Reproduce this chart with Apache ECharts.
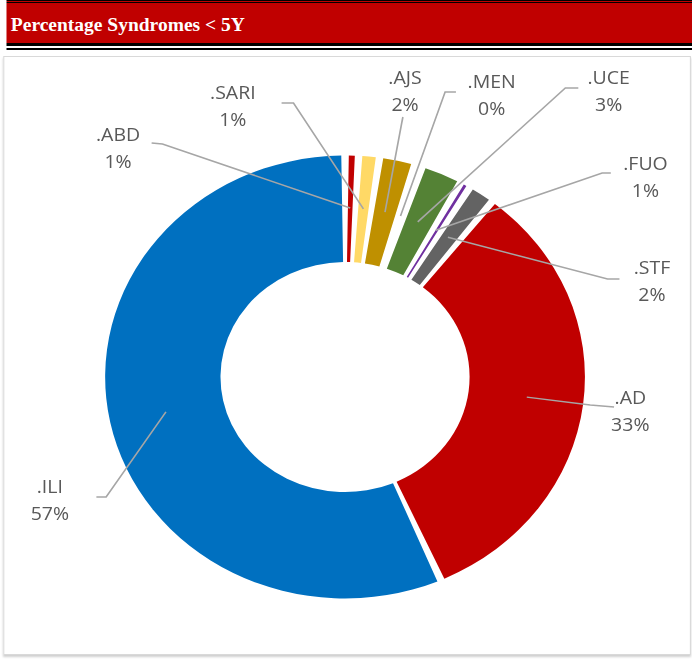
<!DOCTYPE html>
<html>
<head>
<meta charset="utf-8">
<title>Percentage Syndromes &lt; 5Y</title>
<script src="https://cdn.jsdelivr.net/npm/echarts@6/dist/echarts.min.js"></script>
<style>
  html, body { margin: 0; padding: 0; background: #fff; overflow: hidden; }
  /* the source picture is stretched a little horizontally */
  #page { position: relative; width: 639px; height: 659px; transform: scaleX(1.083); transform-origin: 0 0; }
  .rule { position: absolute; left: 5.5px; right: 0; }
  #title {
    position: absolute; left: 10px; top: 5px; height: 40px; line-height: 40px;
    font-family: "Liberation Serif", "Times New Roman", serif; font-weight: bold; font-size: 18px; color: #fff;
  }
  #box {
    position: absolute; left: 3px; top: 56px; width: 633px; height: 597px;
    border: 1px solid #d9d9d9; box-shadow: 0 2px 2px #d0d0d0;
  }
  #chart { position: absolute; left: 0; top: 0; width: 639px; height: 659px; }
</style>
</head>
<body>
<div id="page">
  <div class="rule" style="top:0;height:1px;background:#000"></div>
  <div class="rule" style="top:1px;height:1px;background:#c00000"></div>
  <div class="rule" style="top:2px;height:1px;background:#000"></div>
  <div class="rule" style="top:3px;height:40px;background:#c00000"></div>
  <div class="rule" style="top:43px;height:3px;background:#000"></div>
  <div class="rule" style="top:48px;height:2px;background:#000"></div>
  <div id="title">Percentage Syndromes &lt; 5Y</div>
  <div id="box"></div>
  <div id="chart"></div>
</div>
<script>
// slices, clockwise from 12 o'clock
const categories = ['.ABD', '.SARI', '.AJS', '.MEN', '.UCE', '.FUO', '.STF', '.AD', '.ILI'];
const shares = [0.9, 1.4, 2.4, 0.4, 2.8, 0.7, 1.8, 33.0, 56.6];
const colors = ['#c00000', '#ffd966', '#bf9000', '#a5a5a5', '#548235', '#7030a0', '#636363', '#c00000', '#0070c0'];

// label block centres and leader-line bends (chart pixels, before stretch)
const labelSpots = [[109, 147], [215, 105], [374, 90], [454, 94], [562, 90], [596, 176], [602, 280], [582, 410], [46, 499]];
const bends = [[150, 144], [271, 103], [372, 117], [411, 92], [522, 88], [556, 173], [561, 279], [545, 405], [98, 497]];
const lineEnds = [[140, 143], [260, 103], [372, 117], [421, 92], [534, 88], [564, 173], [572, 279], [567, 407], [89, 497]];

const center = [318.6, 377];

const chart = echarts.init(document.getElementById('chart'), null, { renderer: 'svg' });

const sliceData = categories.map((name, i) => ({ name, value: shares[i], itemStyle: { color: colors[i] } }));
const labelData = categories.map((name, i) => ({ name, value: shares[i] }));

chart.setOption({
  animation: false,
  series: [
    {
      type: 'pie',
      center,
      radius: [115, 221.5],
      startAngle: 90,
      clockwise: true,
      padAngle: 1.8,
      silent: true,
      avoidLabelOverlap: false,
      label: { show: false },
      labelLine: { show: false },
      itemStyle: { borderWidth: 0 },
      data: sliceData,
    },
    {
      // invisible ring that carries the labels, so leaders start mid-ring
      type: 'pie',
      center,
      radius: [0, 169],
      startAngle: 90,
      clockwise: true,
      silent: true,
      z: 3,
      avoidLabelOverlap: false,
      itemStyle: { color: 'rgba(0,0,0,0)' },
      label: {
        show: true,
        formatter: (p) => `${p.name}\n${Math.round(p.value)}%`,
        color: '#595959',
        fontFamily: 'Open Sans',
        fontSize: 18,
        lineHeight: 27,
        align: 'center',
      },
      labelLine: { show: true, length: 10, length2: 10, lineStyle: { color: '#a6a6a6', width: 1.5 } },
      labelLayout: (p) => {
        const i = p.dataIndex;
        const start = p.labelLinePoints ? p.labelLinePoints[0] : bends[i];
        return {
          x: labelSpots[i][0],
          y: labelSpots[i][1],
          align: 'center',
          verticalAlign: 'middle',
          labelLinePoints: [start, bends[i], lineEnds[i]],
        };
      },
      data: labelData,
    },
  ],
});
</script>
</body>
</html>
